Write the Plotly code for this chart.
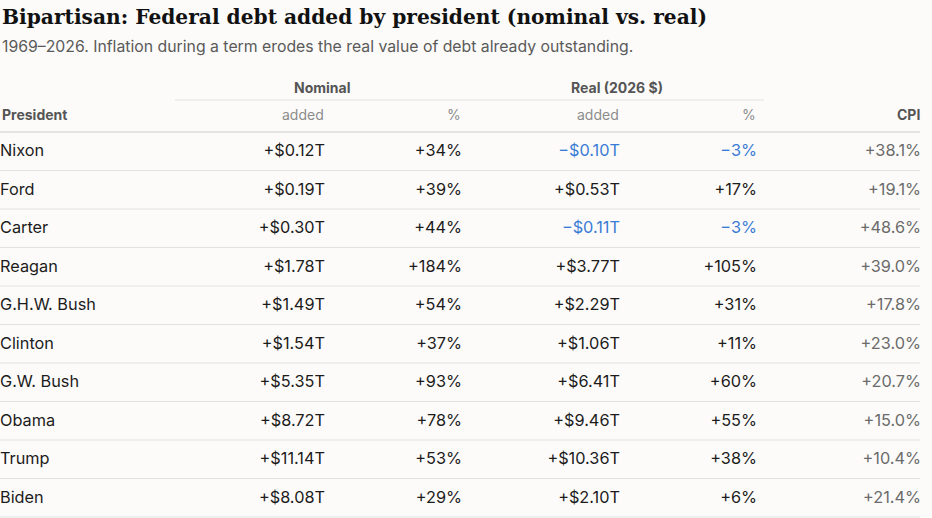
import plotly.graph_objects as go

# ---- data ----
presidents = ["Nixon", "Ford", "Carter", "Reagan", "G.H.W. Bush", "Clinton",
              "G.W. Bush", "Obama", "Trump", "Biden"]
nominal_added = [0.12, 0.19, 0.30, 1.78, 1.49, 1.54, 5.35, 8.72, 11.14, 8.08]   # $T
nominal_pct = [34, 39, 44, 184, 54, 37, 93, 78, 53, 29]
real_added = [-0.10, 0.53, -0.11, 3.77, 2.29, 1.06, 6.41, 9.46, 10.36, 2.10]   # $T, 2026 $
real_pct = [-3, 17, -3, 105, 31, 11, 60, 55, 38, 6]
cpi_pct = [38.1, 19.1, 48.6, 39.0, 17.8, 23.0, 20.7, 15.0, 10.4, 21.4]

title = "Bipartisan: Federal debt added by president (nominal vs. real)"
subtitle = "1969–2026. Inflation during a term erodes the real value of debt already outstanding."

# ---- style ----
W, H = 932, 518
BG = "#fcfbf9"
INK = "#1c1c1c"
BLUE = "#3a7bd5"
GRAY = "#6b6b6b"
SUB = "#8c8c8c"
HEAD = "#555555"
FONT = "Inter, 'Noto Sans', sans-serif"
SERIF = "'DejaVu Serif', 'Liberation Serif', serif"
FS = 16.3

header_bottom = 132
row_h = 38.5
col_x = {"name": 0, "na": 325, "np": 462, "ra": 620, "rp": 757, "cpi": 921}


def money(v):
    s = "+" if v >= 0 else "\u2212"
    return f"{s}${abs(v):.2f}T"


def pct(v, d=0):
    s = "+" if v >= 0 else "\u2212"
    return f"{s}{abs(v):.{d}f}%"


ys = [header_bottom + (i + 0.5) * row_h + 1 for i in range(len(presidents))]

fig = go.Figure()


def col(x, texts, colors, pos="middle left", size=FS, family=FONT):
    fig.add_trace(go.Scatter(
        x=[x] * len(texts), y=ys, mode="text", text=texts,
        textposition=pos, textfont=dict(family=family, size=size, color=colors),
        hoverinfo="skip", showlegend=False, cliponaxis=False))


col(col_x["name"], presidents, [INK] * len(presidents), pos="middle right")
col(col_x["na"], [money(v) for v in nominal_added], [INK] * 10)
col(col_x["np"], [pct(v) for v in nominal_pct], [INK] * 10)
col(col_x["ra"], [money(v) for v in real_added], [BLUE if v < 0 else INK for v in real_added])
col(col_x["rp"], [pct(v) for v in real_pct], [BLUE if v < 0 else INK for v in real_pct])
col(col_x["cpi"], [pct(v, 1) for v in cpi_pct], [GRAY] * 10)

shapes = []
# row separators
for i in range(1, len(presidents) + 1):
    y = header_bottom + i * row_h
    shapes.append(dict(type="line", xref="x", yref="y", x0=0, x1=920, y0=y, y1=y,
                       line=dict(color="#e3e1de", width=1)))
# header bottom rule
shapes.append(dict(type="line", xref="x", yref="y", x0=0, x1=920, y0=header_bottom,
                   y1=header_bottom, line=dict(color="#cfcdca", width=1.2)))
# group rules
shapes.append(dict(type="line", xref="x", yref="y", x0=175, x1=466, y0=100, y1=100,
                   line=dict(color="#e3e1de", width=1)))
shapes.append(dict(type="line", xref="x", yref="y", x0=466, x1=764, y0=100, y1=100,
                   line=dict(color="#e3e1de", width=1)))

ann = []
ann.append(dict(x=0, y=17, xref="x", yref="y", text=f"<b>{title}</b>", showarrow=False,
                xanchor="left", yanchor="middle", font=dict(family=SERIF, size=20.2, color="#111")))
ann.append(dict(x=0, y=46, xref="x", yref="y", text=subtitle, showarrow=False,
                xanchor="left", yanchor="middle", font=dict(family=FONT, size=15.8, color="#5a5a5a")))
ann.append(dict(x=322, y=87, xref="x", yref="y", text="<b>Nominal</b>", showarrow=False,
                xanchor="center", yanchor="middle", font=dict(family=FONT, size=14, color=HEAD)))
ann.append(dict(x=617, y=87, xref="x", yref="y", text="<b>Real (2026 $)</b>", showarrow=False,
                xanchor="center", yanchor="middle", font=dict(family=FONT, size=14, color=HEAD)))
ann.append(dict(x=0, y=114, xref="x", yref="y", text="<b>President</b>", showarrow=False,
                xanchor="left", yanchor="middle", font=dict(family=FONT, size=14, color=HEAD)))
for key, lab in [("na", "added"), ("np", "%"), ("ra", "added"), ("rp", "%")]:
    ann.append(dict(x=col_x[key] + 1, y=114, xref="x", yref="y", text=lab, showarrow=False,
                    xanchor="right", yanchor="middle", font=dict(family=FONT, size=14, color=SUB)))
ann.append(dict(x=col_x["cpi"] + 1, y=114, xref="x", yref="y", text="<b>CPI</b>", showarrow=False,
                xanchor="right", yanchor="middle", font=dict(family=FONT, size=14, color=HEAD)))

fig.update_layout(
    width=W, height=H, margin=dict(l=0, r=0, t=0, b=0),
    paper_bgcolor=BG, plot_bgcolor=BG,
    xaxis=dict(range=[0, W], visible=False, fixedrange=True),
    yaxis=dict(range=[H, 0], visible=False, fixedrange=True),
    shapes=shapes, annotations=ann,
)

fig.write_html(
    "out.html",
    config={"displayModeBar": False},
    post_script="document.body.style.margin='0';document.body.style.overflow='hidden';"
                "document.body.style.background='" + BG + "';",
)
